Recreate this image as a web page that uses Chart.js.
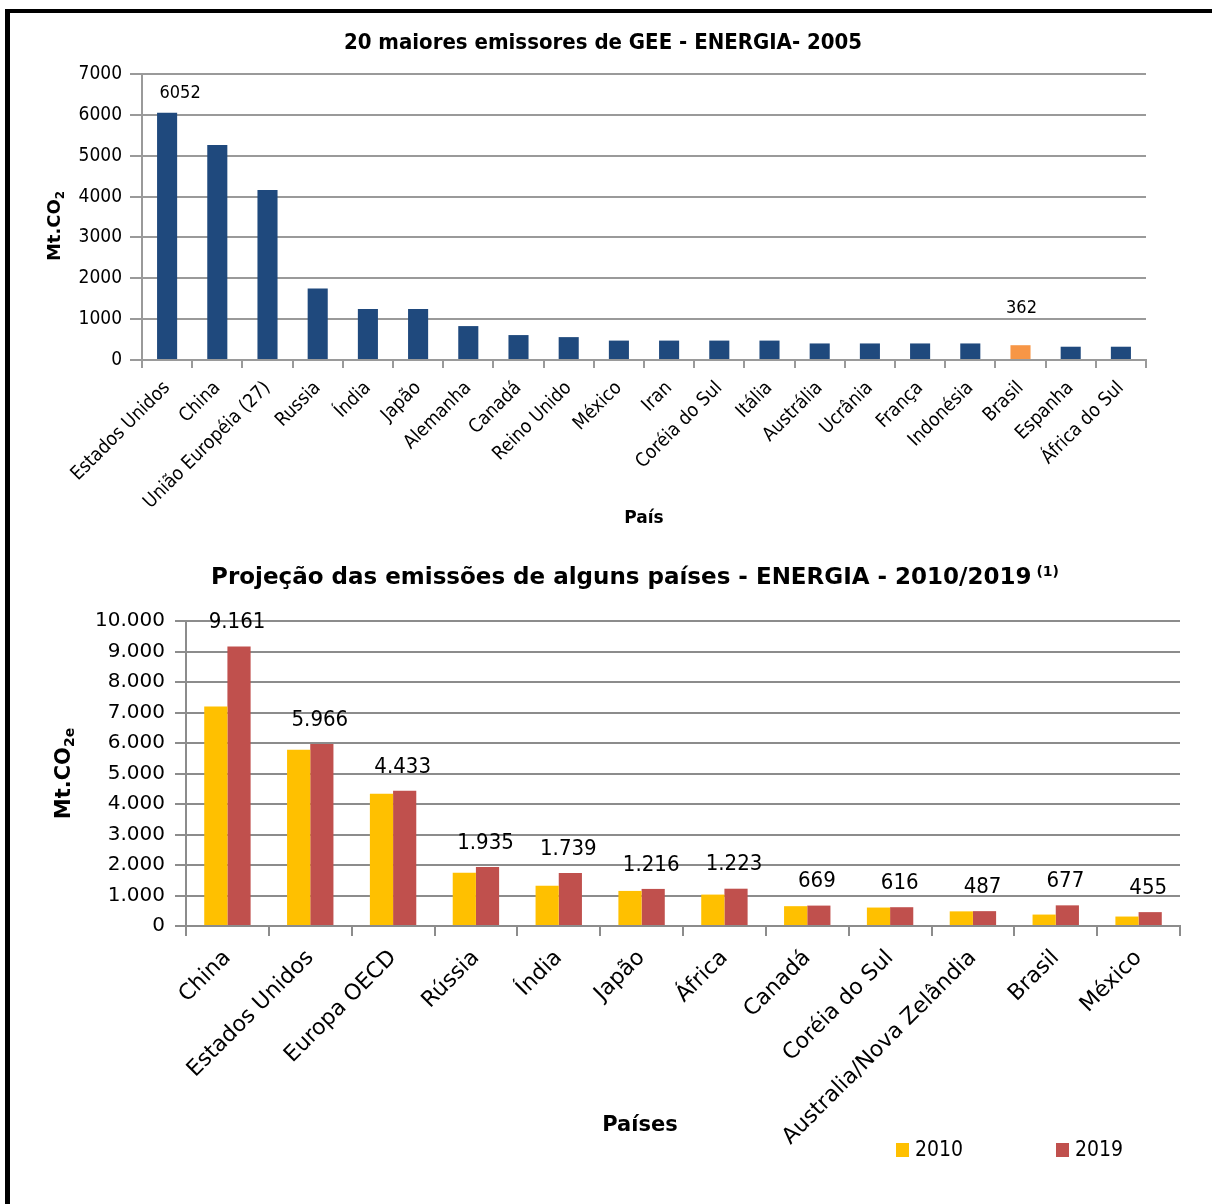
<!DOCTYPE html>
<html>
<head>
<meta charset="utf-8">
<script src="https://cdn.jsdelivr.net/npm/chart.js@4.4.1/dist/chart.umd.min.js"></script>
<style>
html, body { margin: 0; padding: 0; background: #fff; }
#page { position: relative; width: 1212px; height: 1204px; overflow: hidden; }
#frame { position: absolute; left: 5px; top: 9px; right: 0; bottom: 0; border-left: 5px solid #000; border-top: 4px solid #000; }
#wrapA { position: absolute; left: 10px; top: 13px; width: 1190px; height: 530px; }
#wrapB { position: absolute; left: 10px; top: 543px; width: 1190px; height: 661px; }
</style>
</head>
<body>
<div id="page">
  <div id="frame"></div>
  <div id="wrapA"><canvas id="chart2005"></canvas></div>
  <div id="wrapB"><canvas id="chartProj"></canvas></div>
</div>
<script>
// Dados - 20 maiores emissores (2005)
const paises2005 = ['Estados Unidos', 'China', 'União Européia (27)', 'Russia', 'Índia', 'Japão', 'Alemanha', 'Canadá', 'Reino Unido', 'México', 'Iran', 'Coréia do Sul', 'Itália', 'Austrália', 'Ucrânia', 'França', 'Indonésia', 'Brasil', 'Espanha', 'África do Sul'];
const emissoes2005 = [6052, 5260, 4160, 1750, 1250, 1250, 830, 610, 560, 475, 475, 475, 475, 405, 405, 405, 405, 362, 325, 325];
const ticks2005 = [0, 1000, 2000, 3000, 4000, 5000, 6000, 7000];
const rotulados2005 = ['Estados Unidos', 'Brasil'];

// Dados - projeção 2010/2019
const paisesProj = ['China', 'Estados Unidos', 'Europa OECD', 'Rússia', 'Índia', 'Japão', 'África', 'Canadá', 'Coréia do Sul', 'Australia/Nova Zelândia', 'Brasil', 'México'];
const anosProj = ['2010', '2019'];
const proj2010 = [7200, 5780, 4340, 1750, 1320, 1150, 1030, 650, 605, 480, 375, 310];
const proj2019 = [9161, 5966, 4433, 1935, 1739, 1216, 1223, 669, 616, 487, 677, 455];
const ticksProj = [0, 1000, 2000, 3000, 4000, 5000, 6000, 7000, 8000, 9000, 10000];

// Cores
const azul = '#1F497D';
const laranja = '#F79646';
const amarelo = '#FFC000';
const vermelho = '#C0504D';
const cinzaGrade = '#9a9a9a';

const fmtBR = (n) => String(n).replace(/\B(?=(\d{3})+(?!\d))/g, '.');

// Helper: rotated axis title with subscript
function drawYTitle(ctx, x, y, main, sub, size, subSize) {
    ctx.save();
    ctx.translate(x, y);
    ctx.rotate(-Math.PI / 2);
    ctx.fillStyle = '#000';
    ctx.textBaseline = 'alphabetic';
    ctx.font = `bold ${size}px "DejaVu Sans"`;
    const wMain = ctx.measureText(main).width;
    ctx.font = `bold ${subSize}px "DejaVu Sans"`;
    const wSub = ctx.measureText(sub).width;
    const start = -(wMain + wSub) / 2;
    ctx.font = `bold ${size}px "DejaVu Sans"`;
    ctx.textAlign = 'left';
    ctx.fillText(main, start, size * 0.36);
    ctx.font = `bold ${subSize}px "DejaVu Sans"`;
    ctx.fillText(sub, start + wMain, size * 0.36 + subSize * 0.3);
    ctx.restore();
}

// Chart 1 - 2005
const grafico2005 = new Chart(document.getElementById('chart2005'), {
    type: 'bar',
    data: {
        labels: paises2005,
        datasets: [{
            label: 'Mt.CO2',
            data: emissoes2005,
            backgroundColor: paises2005.map(p => p === 'Brasil' ? laranja : azul),
            categoryPercentage: 1,
            barPercentage: 0.4
        }]
    },
    options: {
        responsive: true,
        maintainAspectRatio: false,
        animation: false,
        layout: { padding: { top: 61, right: 54, left: 0, bottom: 0 } },
        plugins: { legend: { display: false }, tooltip: { enabled: false } },
        scales: {
            x: {
                grid: { drawOnChartArea: false, drawTicks: true, tickLength: 8, color: cinzaGrade, lineWidth: 2, offset: true },
                border: { color: cinzaGrade, width: 2 },
                ticks: { color: '#000', font: { family: 'DejaVu Sans Condensed', size: 19 }, minRotation: 45, maxRotation: 45, autoSkip: false, padding: 9 },
                title: { display: true, text: 'País', color: '#000', font: { family: 'DejaVu Sans', size: 17, weight: 'bold' }, padding: { top: 0, bottom: 14 } },
                afterFit(s) { s.height = 183; }
            },
            y: {
                min: 0,
                max: 7000,
                afterBuildTicks(s) { s.ticks = ticks2005.map(v => ({ value: v })); },
                grid: { color: cinzaGrade, lineWidth: 2, tickLength: 12 },
                border: { color: cinzaGrade, width: 2 },
                ticks: { color: '#000', font: { family: 'DejaVu Sans Condensed', size: 19 }, padding: 8, callback: (v) => String(v) },
                afterFit(s) { s.width = 132; }
            }
        }
    },
    plugins: [{
        id: 'extras2005',
        afterDraw(chart) {
            const ctx = chart.ctx;
            ctx.save();
            ctx.fillStyle = '#000';
            ctx.textAlign = 'center';
            ctx.textBaseline = 'middle';
            ctx.font = 'bold 22px "DejaVu Sans Condensed"';
            ctx.fillText('20 maiores emissores de GEE - ENERGIA- 2005', 593, 30);
            // rótulos de dados
            ctx.font = '18px "DejaVu Sans Condensed"';
            const meta = chart.getDatasetMeta(0);
            rotulados2005.forEach(nome => {
                const i = paises2005.indexOf(nome);
                const bar = meta.data[i];
                const dx = nome === 'Brasil' ? 1 : 13;
                const dy = nome === 'Brasil' ? 37 : 19;
                ctx.fillText(String(emissoes2005[i]), bar.x + dx, bar.y - dy);
            });
            ctx.restore();
            drawYTitle(ctx, 44, chart.chartArea.top + 152, 'Mt.CO', '2', 18, 12);
        }
    }]
});

// Chart 2 - Projeção
const graficoProj = new Chart(document.getElementById('chartProj'), {
    type: 'bar',
    data: {
        labels: paisesProj,
        datasets: [
            { label: anosProj[0], data: proj2010, backgroundColor: amarelo, categoryPercentage: 0.56, barPercentage: 1 },
            { label: anosProj[1], data: proj2019, backgroundColor: vermelho, categoryPercentage: 0.56, barPercentage: 1 }
        ]
    },
    options: {
        responsive: true,
        maintainAspectRatio: false,
        animation: false,
        layout: { padding: { top: 78, right: 20, left: 0, bottom: 0 } },
        plugins: { legend: { display: false }, tooltip: { enabled: false } },
        scales: {
            x: {
                grid: { drawOnChartArea: false, drawTicks: true, tickLength: 10, color: '#8c8c8c', lineWidth: 2, offset: true },
                border: { color: '#8c8c8c', width: 2 },
                ticks: { color: '#000', font: { family: 'DejaVu Sans', size: 22 }, minRotation: 45, maxRotation: 45, autoSkip: false, padding: 9 },
                afterFit(s) { s.height = 278; }
            },
            y: {
                min: 0,
                max: 10000,
                afterBuildTicks(s) { s.ticks = ticksProj.map(v => ({ value: v })); },
                grid: { color: '#8c8c8c', lineWidth: 2, tickLength: 11 },
                border: { color: '#8c8c8c', width: 2 },
                ticks: { color: '#000', font: { family: 'DejaVu Sans', size: 20 }, padding: 10, callback: (v) => fmtBR(v) },
                afterFit(s) { s.width = 176; }
            }
        }
    },
    plugins: [{
        id: 'extrasProj',
        afterDraw(chart) {
            const ctx = chart.ctx;
            ctx.save();
            ctx.fillStyle = '#000';
            ctx.textBaseline = 'middle';
            // título com sobrescrito
            const titulo = 'Projeção das emissões de alguns países - ENERGIA - 2010/2019';
            ctx.font = 'bold 23px "DejaVu Sans"';
            const wT = ctx.measureText(titulo).width;
            ctx.font = 'bold 14px "DejaVu Sans"';
            const wS = ctx.measureText(' (1)').width;
            const x0 = 625 - (wT + wS) / 2;
            ctx.textAlign = 'left';
            ctx.font = 'bold 23px "DejaVu Sans"';
            ctx.fillText(titulo, x0, 35);
            ctx.font = 'bold 14px "DejaVu Sans"';
            ctx.fillText(' (1)', x0 + wT, 29);
            // título do eixo x
            ctx.textAlign = 'center';
            ctx.font = 'bold 21px "DejaVu Sans"';
            ctx.fillText('Países', 630, 583);
            // rótulos da série 2019
            ctx.font = '22px "DejaVu Sans Condensed"';
            const meta = chart.getDatasetMeta(1);
            meta.data.forEach((bar, i) => {
                ctx.fillText(fmtBR(proj2019[i]), bar.x - 2, bar.y - 24);
            });
            // legenda
            ctx.textAlign = 'left';
            ctx.font = '21px "DejaVu Sans Condensed"';
            const legX = [886, 1046];
            chart.data.datasets.forEach((ds, i) => {
                ctx.fillStyle = ds.backgroundColor;
                ctx.fillRect(legX[i], 600, 13, 14);
                ctx.fillStyle = '#000';
                ctx.fillText(ds.label, legX[i] + 19, 608);
            });
            ctx.restore();
            drawYTitle(ctx, 52, (chart.chartArea.top + chart.chartArea.bottom) / 2, 'Mt.CO', '2e', 21, 14);
        }
    }]
});
</script>
</body>
</html>
